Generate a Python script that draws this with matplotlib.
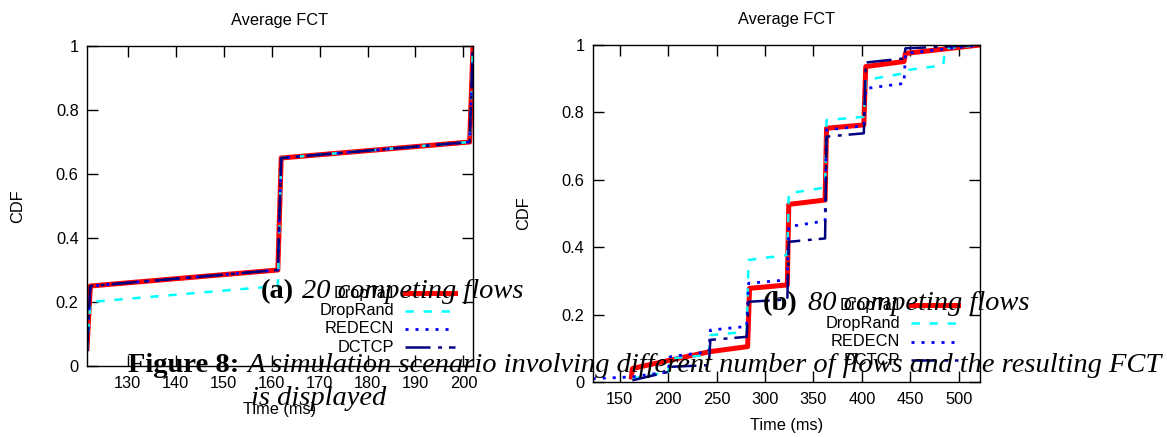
#!/usr/bin/env python

import matplotlib
matplotlib.use("Agg")
import matplotlib.pyplot as plt

# ---- data ----
series_names = ["DropTail", "DropRand", "REDECN", "DCTCP"]

# (a) 20 competing flows
droptail_20_t = [121.5, 122.2, 161.3, 162.0, 201.3, 202.0]
droptail_20_cdf = [0.055, 0.25, 0.30, 0.65, 0.70, 1.0]
droprand_20_t = [121.5, 122.2, 161.3, 162.0, 201.3, 202.0]
droprand_20_cdf = [0.05, 0.20, 0.25, 0.65, 0.70, 1.0]
redecn_20_t = [121.5, 122.2, 161.3, 162.0, 201.3, 202.0]
redecn_20_cdf = [0.05, 0.25, 0.30, 0.65, 0.70, 1.0]
dctcp_20_t = [121.5, 122.2, 161.3, 162.0, 201.3, 202.0]
dctcp_20_cdf = [0.045, 0.25, 0.30, 0.65, 0.70, 1.0]

# (b) 80 competing flows
droptail_80_t = [162, 163, 202, 243, 282, 284, 323, 324.5, 362, 363.5, 402, 404, 443.5, 445, 522]
droptail_80_cdf = [0.015, 0.04, 0.065, 0.09, 0.105, 0.278, 0.288, 0.527, 0.540, 0.753, 0.763,
                   0.936, 0.951, 0.975, 1.0]
droprand_80_t = [163, 200, 202, 242, 243.5, 281, 283, 323, 324.5, 362, 363.5, 402, 404, 443.5,
                 445, 484, 486, 522]
droprand_80_cdf = [0.01, 0.03, 0.07, 0.08, 0.139, 0.149, 0.362, 0.377, 0.56, 0.577, 0.777, 0.787,
                   0.896, 0.916, 0.925, 0.94, 0.99, 1.0]
redecn_80_t = [122, 162, 200, 202, 242, 243.5, 281, 283, 323, 324.5, 362, 363.5, 402, 404, 443.5,
               445, 522]
redecn_80_cdf = [0.01, 0.015, 0.03, 0.075, 0.09, 0.154, 0.165, 0.293, 0.303, 0.461, 0.478, 0.748,
                 0.76, 0.871, 0.886, 0.975, 1.0]
dctcp_80_t = [163, 200, 202, 242, 243.5, 281, 283, 323, 324.5, 362, 363.5, 402, 404, 443.5, 445, 522]
dctcp_80_cdf = [0.005, 0.03, 0.045, 0.05, 0.125, 0.134, 0.238, 0.245, 0.416, 0.426, 0.728, 0.738,
                0.948, 0.96, 0.99, 1.0]

xticks_20 = [130, 140, 150, 160, 170, 180, 190, 200]
xticks_80 = [150, 200, 250, 300, 350, 400, 450, 500]
yticks = [0, 0.2, 0.4, 0.6, 0.8, 1]
ytick_labels = ["0", "0.2", "0.4", "0.6", "0.8", "1"]

# ---- styles (gnuplot look) ----
plt.rcParams["font.family"] = ["Liberation Sans", "DejaVu Sans"]
plt.rcParams["lines.scale_dashes"] = False
styles = [
    dict(color="#ff0000", lw=3.6, ls="-"),
    dict(color="#00ffff", lw=1.8, dashes=(6, 7)),
    dict(color="#0000ff", lw=2.0, dashes=(2.2, 5)),
    dict(color="#000080", lw=1.8, dashes=(18, 5.5, 2.8, 5)),
]
FS = 11.8


def draw_cdf(ax, data, xlim, xticks, key_x, key_y):
    # Plot the four CDFs
    for (t, cdf), st in zip(data, styles):
        ax.plot(t, cdf, **st)
    ax.set_xlim(*xlim)
    ax.set_ylim(0, 1)
    ax.set_xticks(xticks)
    ax.set_yticks(yticks)
    ax.set_yticklabels(ytick_labels)
    ax.tick_params(direction="in", top=True, right=True, length=8, width=1,
                   labelsize=FS)
    ax.tick_params(axis="x", pad=7)
    ax.tick_params(axis="y", pad=6)
    for sp in ax.spines.values():
        sp.set_linewidth(1.0)
    ax.set_title("Average FCT", fontsize=FS, pad=15)
    ax.set_xlabel("Time (ms)", fontsize=FS, labelpad=8)
    ax.set_ylabel("CDF", fontsize=FS, labelpad=22)

    # Key: right aligned names, line samples to the right
    for i, (name, st) in enumerate(zip(series_names, styles)):
        y = key_y[i]
        ax.text(key_x[0], y, name, transform=ax.transAxes, ha="right",
                va="center", fontsize=FS)
        ax.plot(key_x[1:], [y, y], transform=ax.transAxes, clip_on=False, **st)


fig = plt.figure(figsize=(11.67, 4.37), dpi=100)
W, H = 1167.0, 437.0

ax1 = fig.add_axes([87 / W, (H - 366) / H, 386 / W, 320 / H])
draw_cdf(ax1,
         [(droptail_20_t, droptail_20_cdf), (droprand_20_t, droprand_20_cdf),
          (redecn_20_t, redecn_20_cdf), (dctcp_20_t, dctcp_20_cdf)],
         (121.5, 202.0), xticks_20,
         (0.795, 0.824, 0.953), [0.228, 0.172, 0.116, 0.059])

ax2 = fig.add_axes([592.7 / W, (H - 382) / H, 387.3 / W, 337 / H])
draw_cdf(ax2,
         [(droptail_80_t, droptail_80_cdf), (droprand_80_t, droprand_80_cdf),
          (redecn_80_t, redecn_80_cdf), (dctcp_80_t, dctcp_80_cdf)],
         (122, 522), xticks_80,
         (0.793, 0.822, 0.944), [0.228, 0.175, 0.119, 0.065])

# ---- LaTeX caption text that overlays the plots ----
CS = 20.5
serif = ["Liberation Serif", "DejaVu Serif"]


def cap(x, y, s, bold=False):
    fig.text(x / W, 1 - y / H, s, family=serif, fontsize=CS, va="baseline",
             fontweight="bold" if bold else "normal",
             fontstyle="normal" if bold else "italic", zorder=10)


cap(261, 298, "(a)", bold=True)
cap(302, 298, "20 competing flows")
cap(763, 310, "(b)", bold=True)
cap(808, 310, "80 competing flows")
cap(128, 372, "Figure 8:", bold=True)
cap(248, 372, "A simulation scenario involving different number of flows and the resulting FCT")
cap(251, 405, "is displayed")

fig.savefig("out.png", dpi=100)
